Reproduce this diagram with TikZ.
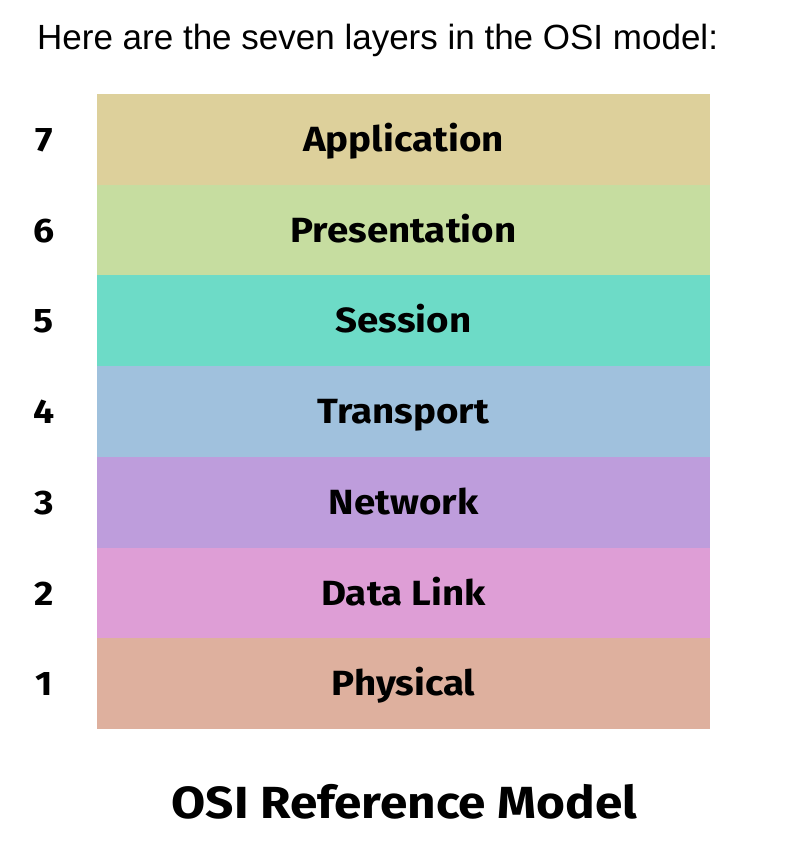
\documentclass[tikz,border=0pt]{standalone}
\usepackage{fontspec}
\setmainfont{Liberation Sans}
\newfontfamily\layerfont[FakeStretch=1.1]{Fira Sans}
\usetikzlibrary{positioning}

\definecolor{appcol}{RGB}{221,208,155}
\definecolor{prescol}{RGB}{198,221,160}
\definecolor{sesscol}{RGB}{109,219,199}
\definecolor{transcol}{RGB}{160,193,221}
\definecolor{netcol}{RGB}{190,157,220}
\definecolor{linkcol}{RGB}{222,158,214}
\definecolor{physcol}{RGB}{222,176,158}

\begin{document}
\begin{tikzpicture}[
    x=1pt, y=-1pt,
    layer/.style={rectangle, minimum width=613pt, minimum height=91pt, inner sep=0pt,
                  font=\layerfont\bfseries\fontsize{35}{38}\selectfont, text height=24pt, text depth=0pt},
    num/.style={font=\layerfont\bfseries\fontsize{34}{36}\selectfont, text height=24pt, text depth=0pt, inner sep=0pt},
    heading/.style={font=\fontsize{35}{40}\selectfont, anchor=base west, inner sep=0pt},
    caption/.style={font=\layerfont\bfseries\fontsize{45}{48}\selectfont, anchor=base, inner sep=0pt}
]
\useasboundingbox[fill=white] (0,0) rectangle (810,852);

% Intro line
\node[heading] (intro) at (37,49) {Here are the seven layers in the OSI model:};

% Layer stack, top to bottom (slight overlap hides seams)
\node[layer, fill=appcol] (l7) at (403.5,139.5) {Application};
\node[layer, fill=prescol, below=-0.7pt of l7] (l6) {Presentation};
\node[layer, fill=sesscol, below=-0.7pt of l6] (l5) {Session};
\node[layer, fill=transcol, below=-0.7pt of l5] (l4) {Transport};
\node[layer, fill=netcol, below=-0.7pt of l4] (l3) {Network};
\node[layer, fill=linkcol, below=-0.7pt of l3] (l2) {Data Link};
\node[layer, fill=physcol, below=-0.7pt of l2] (l1) {Physical};

% Layer numbers
\node[num] (n7) at (44,0 |- l7) {7};
\node[num] (n6) at (44,0 |- l6) {6};
\node[num] (n5) at (44,0 |- l5) {5};
\node[num] (n4) at (44,0 |- l4) {4};
\node[num] (n3) at (44,0 |- l3) {3};
\node[num] (n2) at (44,0 |- l2) {2};
\node[num] (n1) at (44,0 |- l1) {1};

% Caption
\node[caption] (title) at (404.5,818) {OSI Reference Model};

\end{tikzpicture}
\end{document}
